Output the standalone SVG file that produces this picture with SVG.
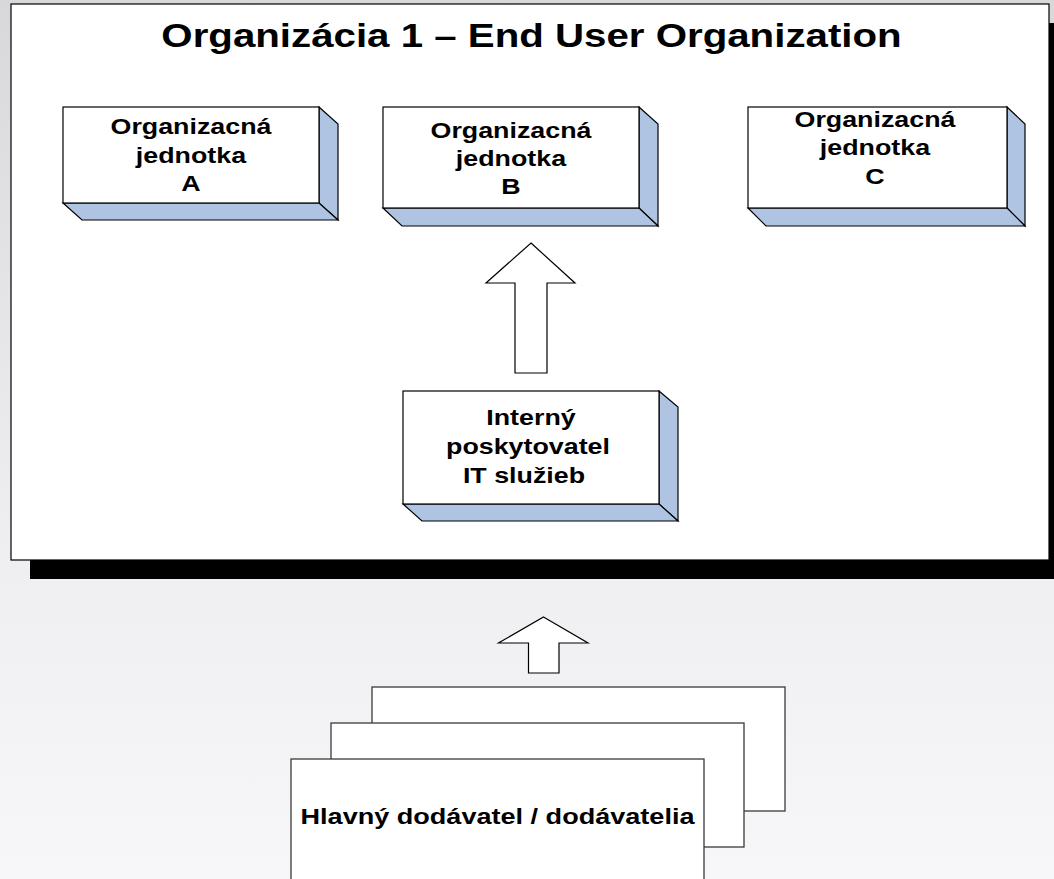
<svg xmlns="http://www.w3.org/2000/svg" width="1054" height="879" viewBox="0 0 1054 879">
<defs>
<linearGradient id="bg" x1="0" y1="0" x2="0" y2="1">
<stop offset="0" stop-color="#d8d8da"/>
<stop offset="0.6" stop-color="#eeeef0"/>
<stop offset="1" stop-color="#f7f7f9"/>
</linearGradient>
<style>
.front{fill:#ffffff;stroke:#000;stroke-width:1.2}
.side{fill:#afc4e2;stroke:#000;stroke-width:1.2;stroke-linejoin:miter}
.t{font-family:"Liberation Sans",Arial,sans-serif;font-weight:bold;font-size:22px;fill:#000;text-anchor:middle}
.title{font-family:"Liberation Sans",Arial,sans-serif;font-weight:bold;font-size:33px;fill:#000;text-anchor:middle}
.arrow{fill:#fff;stroke:#000;stroke-width:1.2;stroke-linejoin:miter}
.stack{fill:#fff;stroke:#3a3a3a;stroke-width:1.3}
</style>
</defs>
<rect x="0" y="0" width="1054" height="879" fill="url(#bg)"/>

<g id="frame">
<rect x="30" y="23" width="1040" height="556" fill="#000"/>
<rect x="11" y="4" width="1038" height="556" fill="#fff" stroke="#000" stroke-width="1.2"/>
<text class="title" transform="translate(531.5 0) scale(1.22 1)" x="0" y="47.5">Organizácia 1 – End User Organization</text>
</g>

<g id="unitA">
<polygon class="side" points="319,107 338,124 338,220 319,203"/>
<polygon class="side" points="63,203 82,220 338,220 319,203"/>
<rect class="front" x="63" y="107" width="256" height="96"/>
<text class="t" transform="translate(191 0) scale(1.22 1)" x="0" y="134.5">Organizacná</text>
<text class="t" transform="translate(191 0) scale(1.22 1)" x="0" y="163">jednotka</text>
<text class="t" transform="translate(191 0) scale(1.22 1)" x="0" y="191.5">A</text>
</g>

<g id="unitB">
<polygon class="side" points="639,107 658,124 658,226 639,208"/>
<polygon class="side" points="383,208 402,226 658,226 639,208"/>
<rect class="front" x="383" y="107" width="256" height="101"/>
<text class="t" transform="translate(511 0) scale(1.22 1)" x="0" y="138.5">Organizacná</text>
<text class="t" transform="translate(511 0) scale(1.22 1)" x="0" y="166.5">jednotka</text>
<text class="t" transform="translate(511 0) scale(1.22 1)" x="0" y="194.5">B</text>
</g>

<g id="unitC">
<polygon class="side" points="1007,107 1025,124 1025,226 1007,208"/>
<polygon class="side" points="748,208 766,226 1025,226 1007,208"/>
<rect class="front" x="748" y="107" width="259" height="101"/>
<text class="t" transform="translate(875 0) scale(1.22 1)" x="0" y="127">Organizacná</text>
<text class="t" transform="translate(875 0) scale(1.22 1)" x="0" y="155.5">jednotka</text>
<text class="t" transform="translate(875 0) scale(1.22 1)" x="0" y="184">C</text>
</g>

<g id="internal">
<polygon class="side" points="659,391 678,407 678,521 659,504"/>
<polygon class="side" points="403,504 422,521 678,521 659,504"/>
<rect class="front" x="403" y="391" width="256" height="113"/>
<text class="t" transform="translate(531 0) scale(1.22 1)" x="0" y="425">Interný</text>
<text class="t" transform="translate(528 0) scale(1.22 1)" x="0" y="454.5">poskytovatel</text>
<text class="t" transform="translate(524 0) scale(1.22 1)" x="0" y="483.5">IT služieb</text>
</g>

<g id="suppliers">
<rect class="stack" x="372" y="687" width="413" height="124"/>
<rect class="stack" x="331" y="723" width="413" height="124"/>
<rect class="stack" x="291" y="759" width="413" height="125"/>
<text class="t" transform="translate(497.5 0) scale(1.23 1)" x="0" y="824">Hlavný dodávatel / dodávatelia</text>
</g>

<g id="connectors">
<polygon class="arrow" points="531,243 575,283 547,283 547,373 515,373 515,283 486,283"/>
<polygon class="arrow" points="543.5,617 588,643 559,643 559,673 528.5,673 528.5,643 498.5,643" stroke="#333"/>
</g>
</svg>
